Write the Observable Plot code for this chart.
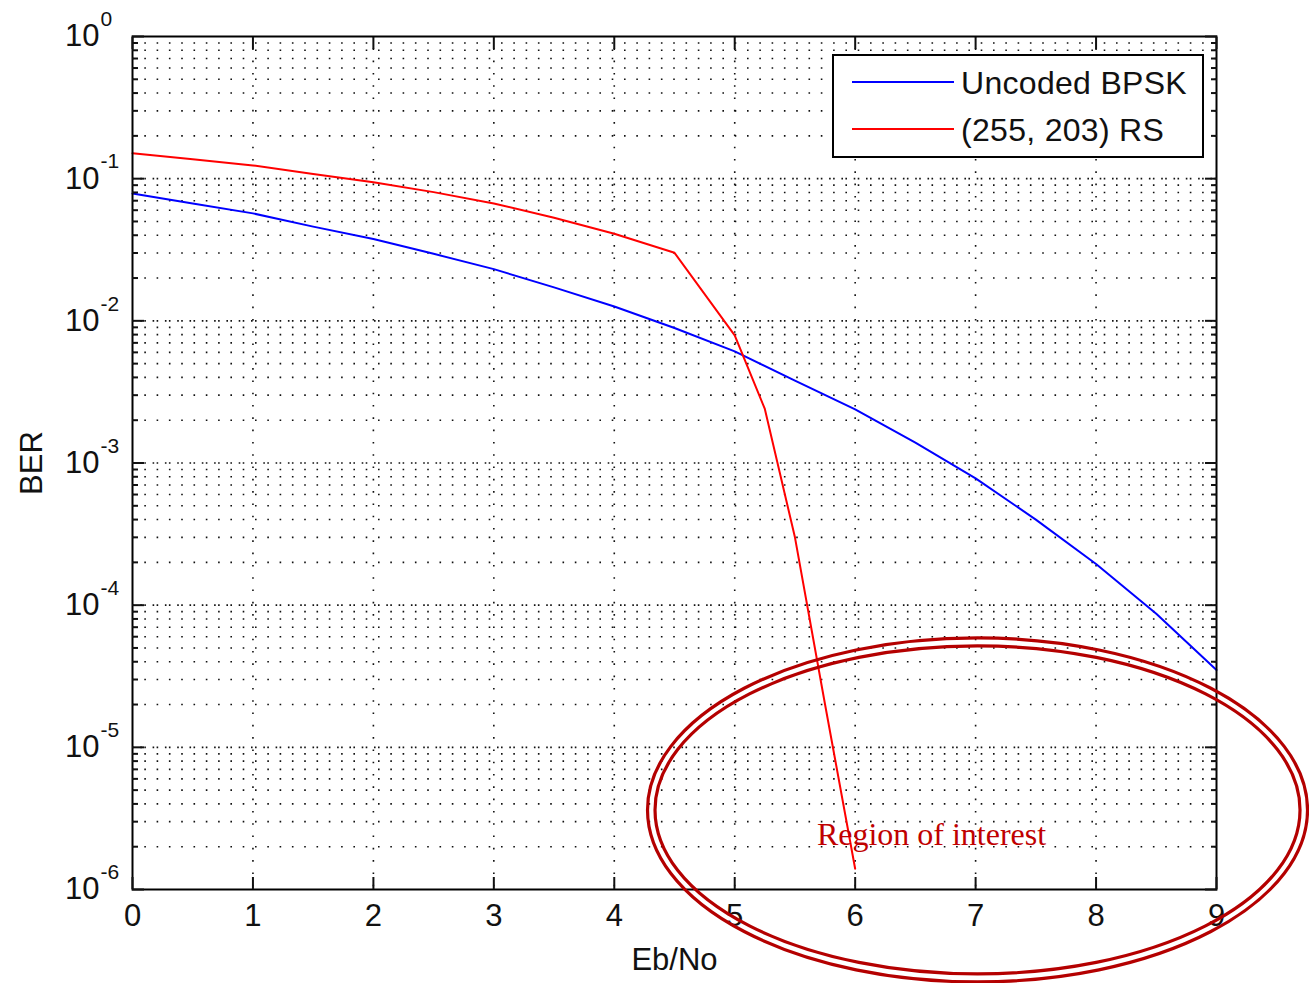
<!DOCTYPE html>
<html>
<head>
<meta charset="utf-8">
<script src="https://cdn.jsdelivr.net/npm/d3@7"></script>
<script src="https://cdn.jsdelivr.net/npm/@observablehq/plot@0.6"></script>
<style>
  body { margin: 0; background: #fff; }
  #wrap { position: relative; width: 1309px; height: 983px; }
  #legend {
    position: absolute; left: 832px; top: 54px; width: 368px; height: 100px;
    border: 2px solid #000; background: #fff;
    font-family: "Liberation Sans", Arial, sans-serif; font-size: 32px; color: #111;
  }
  #legend .sw { position: absolute; left: 18px; width: 102px; height: 2px; }
  #legend .lb { position: absolute; left: 127px; line-height: 1; white-space: nowrap; letter-spacing: 0.3px; }
</style>
</head>
<body>
<div id="wrap"></div>
<script>
// ---- data ----
const ebnoUncoded = [0, 0.5, 1, 1.5, 2, 2.5, 3, 3.5, 4, 4.5, 5, 5.5, 6, 6.5, 7, 7.5, 8, 8.5, 9];
const berUncoded  = [0.0786, 0.067, 0.057, 0.046, 0.0376, 0.0296, 0.0231, 0.0172, 0.0126, 0.0089,
                     0.0061, 0.0038, 0.00238, 0.00139, 0.00078, 0.00040, 0.000195, 0.000087, 0.000035];
const ebnoRS = [0, 0.5, 1, 1.5, 2, 2.5, 3, 3.5, 4, 4.5, 5, 5.25, 5.5, 5.75, 6];
const berRS  = [0.151, 0.137, 0.124, 0.108, 0.0945, 0.0804, 0.0669, 0.0531, 0.041, 0.0301,
                0.0079, 0.0024, 0.00030, 0.000020, 0.0000014];

const seriesNames = ["Uncoded BPSK", "(255, 203) RS"];
const seriesColors = ["#0000ff", "#ff0000"];

const xTicks = [0, 1, 2, 3, 4, 5, 6, 7, 8, 9];
const xTickLabels = ["0", "1", "2", "3", "4", "5", "6", "7", "8", "9"];
const decades = [1e-6, 1e-5, 1e-4, 1e-3, 1e-2, 1e-1, 1];
const decadeExponents = ["-6", "-5", "-4", "-3", "-2", "-1", "0"];
const minorMultipliers = [2, 3, 4, 5, 6, 7, 8, 9];
const minorTicks = decades.slice(0, -1).flatMap(d => minorMultipliers.map(m => m * d));

const annotationText = ["Region of interest"];
const annotationX = [6.634];
const annotationY = [2.07e-6];
const ellipseCenterX = [7.02];
const ellipseCenterY = [3.6e-6];

const xLabel = "Eb/No";
const yLabel = "BER";

// ---- tables ----
const uncodedRows = ebnoUncoded.map((x, i) => ({x, y: berUncoded[i]}));
const rsRows = ebnoRS.map((x, i) => ({x, y: berRS[i]}));

const font = "Liberation Sans, Arial, sans-serif";
const dots = "1.6,10.7";

const ellipseMark = (index, scales) => {
  const g = d3.create("svg:g").attr("fill", "none").attr("stroke", "#b40000").attr("stroke-width", 3.2);
  const cx = scales.x(ellipseCenterX[0]), cy = scales.y(ellipseCenterY[0]);
  g.append("ellipse").attr("cx", cx).attr("cy", cy).attr("rx", 330).attr("ry", 172);
  g.append("ellipse").attr("cx", cx).attr("cy", cy).attr("rx", 322.5).attr("ry", 164);
  return g.node();
};

const chart = Plot.plot({
  width: 1309,
  height: 983,
  marginLeft: 132,
  marginRight: 93,
  marginTop: 36,
  marginBottom: 94,
  style: {fontFamily: font, background: "#fff", color: "#111"},
  x: {domain: [0, 9]},
  y: {type: "log", domain: [1e-6, 1]},
  marks: [
    // grid
    Plot.ruleY(minorTicks, {stroke: "#111", strokeWidth: 1.6, strokeDasharray: dots}),
    Plot.ruleY(decades.slice(1, -1), {stroke: "#111", strokeWidth: 1.6, strokeDasharray: dots}),
    Plot.ruleY(decades.slice(1, -1), {stroke: "#111", strokeWidth: 1.6, strokeDasharray: dots, strokeDashoffset: 4}),
    Plot.ruleX(xTicks.slice(1, -1), {stroke: "#111", strokeWidth: 1.6, strokeDasharray: dots}),
    // series
    Plot.line(uncodedRows, {x: "x", y: "y", stroke: seriesColors[0], strokeWidth: 2}),
    Plot.line(rsRows, {x: "x", y: "y", stroke: seriesColors[1], strokeWidth: 2}),
    // frame + inward ticks
    Plot.frame({stroke: "#000", strokeWidth: 2}),
    Plot.axisY(decades, {anchor: "left", tickSize: -12, tickFormat: () => "", label: null, strokeWidth: 2}),
    Plot.axisY(minorTicks, {anchor: "left", tickSize: -6, tickFormat: () => "", label: null, strokeWidth: 2}),
    Plot.axisY(decades, {anchor: "right", tickSize: -12, tickFormat: () => "", label: null, strokeWidth: 2}),
    Plot.axisY(minorTicks, {anchor: "right", tickSize: -6, tickFormat: () => "", label: null, strokeWidth: 2}),
    Plot.axisX(xTicks, {anchor: "bottom", tickSize: -12, tickFormat: () => "", label: null, strokeWidth: 2}),
    Plot.axisX(xTicks, {anchor: "top", tickSize: -12, tickFormat: () => "", label: null, strokeWidth: 2}),
    // tick labels
    Plot.text(xTicks, {x: d => d, text: (d, i) => xTickLabels[i], frameAnchor: "bottom", lineAnchor: "middle", dy: 27, fontSize: 31, fill: "#111"}),
    Plot.text(decades, {y: d => d, text: () => "10", frameAnchor: "left", textAnchor: "end", lineAnchor: "middle", dx: -33, fontSize: 31, fill: "#111"}),
    Plot.text(decades, {y: d => d, text: (d, i) => decadeExponents[i], frameAnchor: "left", textAnchor: "start", lineAnchor: "middle", dx: -32, dy: -17, fontSize: 21, fill: "#111"}),
    // axis labels
    Plot.text([xLabel], {frameAnchor: "bottom", lineAnchor: "bottom", dy: 80, fontSize: 31, fill: "#111"}),
    Plot.text([yLabel], {frameAnchor: "left", textAnchor: "middle", lineAnchor: "middle", rotate: -90, dx: -100, fontSize: 31, fill: "#111"}),
    // annotation
    Plot.text(annotationText, {x: (d, i) => annotationX[i], y: (d, i) => annotationY[i], text: d => d,
      lineAnchor: "bottom", fontFamily: "Liberation Serif, Times New Roman, serif", fontSize: 32, fill: "#c00000"}),
    ellipseMark
  ]
});

const wrap = document.getElementById("wrap");
wrap.appendChild(chart);

// legend (drawn above the SVG, inside the axes box)
const legend = document.createElement("div");
legend.id = "legend";
seriesNames.forEach((name, i) => {
  const sw = document.createElement("div");
  sw.className = "sw";
  sw.style.top = (25 + i * 47) + "px";
  sw.style.background = seriesColors[i];
  const lb = document.createElement("div");
  lb.className = "lb";
  lb.style.top = (11 + i * 47) + "px";
  lb.textContent = name;
  legend.appendChild(sw);
  legend.appendChild(lb);
});
wrap.appendChild(legend);
</script>
</body>
</html>
